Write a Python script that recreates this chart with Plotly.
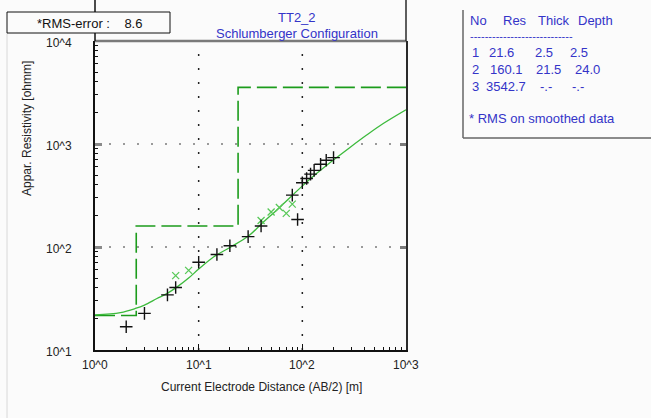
import math
import plotly.graph_objects as go

# ---- sounding data -------------------------------------------------------
# observed apparent resistivity (field data)
obs_ab2 = [2, 3, 5, 6, 10, 15, 20, 30, 40, 80, 90, 100, 110, 120, 130, 150, 170, 200]
obs_rho = [16.8, 22.7, 34.3, 40.4, 71, 84.7, 103, 126, 160, 319, 185, 420, 462, 510, 555, 635, 695, 738]

# smoothed data points
sm_ab2 = [6, 8, 40, 50, 60, 70, 80]
sm_rho = [52.7, 59.3, 181, 219, 242, 212, 261]

# model response curve
resp_ab2 = [1, 1.76, 2.45, 3.0, 3.96, 4.94, 6.2, 8, 10, 13.9, 20, 30, 40.5, 63, 95, 137, 198, 286, 414, 598, 1000]
resp_rho = [21.9, 23.1, 25.3, 27.3, 31.6, 35.3, 41, 50, 61, 80, 99, 127, 168, 252, 373, 516, 695, 921, 1214, 1571, 2150]

# layered model
layer_no = [1, 2, 3]
layer_res = [21.6, 160.1, 3542.7]
layer_thick = ["2.5", "21.5", "-.-"]
layer_depth = ["2.5", "24.0", "-.-"]
depths = [2.5, 24.0]

x_tick_vals = [1, 10, 100, 1000]
x_tick_text = ["10^0", "10^1", "10^2", "10^3"]
y_tick_vals = [10, 100, 1000, 10000]
y_tick_text = ["10^1", "10^2", "10^3", "10^4"]

rms_error = 8.6
site_name = "TT2_2"
config_name = "Schlumberger Configuration"

# ---- geometry helpers (pixel -> paper) ----------------------------------
W, H = 651, 418
L, R, T, B = 95, 406, 41, 350


def px(x):
    return (x - L) / (R - L)


def py(y):
    return (B - y) / (B - T)


FONT = "Liberation Sans, Arial, sans-serif"
BLUE = "#3434c8"
GREEN_DASH = "#1c9c1c"
GREEN_LINE = "#3cba3c"
GREEN_X = "#58c858"
BG = "#fbfbfb"

fig = go.Figure()

# dotted vertical grid at the inner decades
grid_x, grid_y = [], []
for v in x_tick_vals[1:-1]:
    grid_x += [v, v, None]
    grid_y += [y_tick_vals[0], y_tick_vals[-1], None]
fig.add_trace(go.Scatter(
    x=grid_x, y=grid_y, mode="lines",
    line=dict(color="#222222", width=1.5, dash="2px,12px"),
    hoverinfo="skip", showlegend=False))

# model steps: resistivity of each layer down to its bottom depth
step_x = [1] + depths + [1000]
step_y = layer_res + [layer_res[-1]]
fig.add_trace(go.Scatter(
    x=step_x, y=step_y, mode="lines", line_shape="hv",
    line=dict(color=GREEN_DASH, width=1.6, dash="20px,6px"),
    hoverinfo="skip", showlegend=False))

fig.add_trace(go.Scatter(
    x=resp_ab2, y=resp_rho, mode="lines", line_shape="spline",
    line=dict(color=GREEN_LINE, width=1.3), showlegend=False))

fig.add_trace(go.Scatter(
    x=sm_ab2, y=sm_rho, mode="markers",
    marker=dict(symbol="x-thin", size=7, line=dict(color=GREEN_X, width=1.3)),
    showlegend=False))

fig.add_trace(go.Scatter(
    x=obs_ab2, y=obs_rho, mode="markers",
    marker=dict(symbol="cross-thin", size=9, line=dict(color="#111111", width=1.4)),
    showlegend=False))

# right-hand axis carrying only decade ticks
fig.add_trace(go.Scatter(x=[1], y=[10], yaxis="y2", mode="markers",
                         marker=dict(opacity=0), hoverinfo="skip", showlegend=False))

fig.update_layout(
    width=W, height=H,
    margin=dict(l=L, r=W - R, t=T, b=H - B),
    paper_bgcolor=BG, plot_bgcolor=BG,
    font=dict(family=FONT, size=12, color="#222222"),
    xaxis=dict(
        type="log", range=[0, 3], showticklabels=False,
        tickmode="array", tickvals=x_tick_vals,
        ticks="inside", ticklen=6, tickwidth=1, tickcolor="#111111",
        showline=True, linecolor="#111111", linewidth=1.5, mirror=False,
        showgrid=False,
        minor=dict(ticks="inside", ticklen=3, tickwidth=1, tickcolor="#111111",
                   dtick="D1", showgrid=False),
        zeroline=False,
    ),
    yaxis=dict(
        type="log", range=[1, 4], showticklabels=False,
        tickmode="array", tickvals=y_tick_vals,
        ticks="inside", ticklen=7, tickwidth=2.5, tickcolor="#8a8a8a",
        showline=True, linecolor="#111111", linewidth=1.5, mirror=False,
        showgrid=True, gridcolor="#9a9a9a", gridwidth=2, griddash="2px,12px",
        minor=dict(ticks="inside", ticklen=3, tickwidth=1, tickcolor="#111111",
                   dtick="D1", showgrid=False),
        zeroline=False,
    ),
    yaxis2=dict(
        type="log", range=[1, 4], overlaying="y", side="right",
        showticklabels=False, tickmode="array", tickvals=y_tick_vals,
        ticks="inside", ticklen=6, tickwidth=2.5, tickcolor="#7a7a7a",
        showline=True, linecolor="#2a2a2a", linewidth=1.5,
        showgrid=False, zeroline=False,
    ),
)

shapes = [
    # top border of plotting area
    dict(type="line", xref="paper", yref="paper", x0=0, x1=1, y0=1, y1=1,
         line=dict(color="#7a7a7a", width=2.5)),
    # side lines running up through the title area
    dict(type="line", xref="paper", yref="paper", x0=0, x1=0, y0=1, y1=py(0),
         line=dict(color="#111111", width=1.5)),
    dict(type="line", xref="paper", yref="paper", x0=1, x1=1, y0=1, y1=py(0),
         line=dict(color="#2a2a2a", width=1.5)),
    # faint frame on the far left
    dict(type="line", xref="paper", yref="paper", x0=px(7), x1=px(7), y0=py(33), y1=py(418),
         line=dict(color="#d8d8d8", width=1)),
    # RMS box
    dict(type="rect", xref="paper", yref="paper", x0=px(7), x1=px(170), y0=py(33), y1=py(12),
         line=dict(color="#111111", width=1), fillcolor=BG),
    # model table frame
    dict(type="line", xref="paper", yref="paper", x0=px(463), x1=px(463), y0=py(10), y1=py(138),
         line=dict(color="#666666", width=1.5)),
    dict(type="line", xref="paper", yref="paper", x0=px(463), x1=px(652), y0=py(138), y1=py(138),
         line=dict(color="#666666", width=1.5)),
]
fig.update_layout(shapes=shapes)

ann = []


def text(x, y, s, size=12, color="#222222", xanchor="center", angle=0):
    ann.append(dict(xref="paper", yref="paper", x=px(x), y=py(y), text=s,
                    showarrow=False, xanchor=xanchor, yanchor="middle",
                    textangle=angle, font=dict(family=FONT, size=size, color=color)))


# tick labels
for v, s in zip(x_tick_vals, x_tick_text):
    ann.append(dict(xref="x", yref="paper", x=math.log10(v), y=py(365), text=s,
                    showarrow=False, xanchor="center", yanchor="middle",
                    font=dict(family=FONT, size=12, color="#222222")))
for v, s in zip(y_tick_vals, y_tick_text):
    ann.append(dict(xref="paper", yref="y", x=px(59), y=math.log10(v), text=s,
                    showarrow=False, xanchor="center", yanchor="middle", yshift=-2,
                    font=dict(family=FONT, size=12, color="#222222")))

# axis titles
text(261, 387, "Current Electrode Distance (AB/2) [m]")
text(27, 129, "Appar. Resistivity [ohmm]", angle=-90)

# title block
text(297, 17, site_name, size=13, color=BLUE)
text(297, 33, config_name, size=13, color=BLUE)
text(89, 23, f"*RMS-error :    {rms_error}", size=13, color="#111111")

# model table
text(468, 20, "No", size=13, color=BLUE, xanchor="left")
text(501, 20, "Res", size=13, color=BLUE, xanchor="left")
text(536, 20, "Thick", size=13, color=BLUE, xanchor="left")
text(576, 20, "Depth", size=13, color=BLUE, xanchor="left")
text(468, 36, "-" * 28, size=11, color=BLUE, xanchor="left")
row_y = [52, 69, 86]
res_x = [487, 488, 484]
thick_x = [533, 534, 538]
depth_x = [568, 573, 570]
for i, n in enumerate(layer_no):
    text(470, row_y[i], str(n), size=13, color=BLUE, xanchor="left")
    text(res_x[i], row_y[i], f"{layer_res[i]:.1f}", size=13, color=BLUE, xanchor="left")
    text(thick_x[i], row_y[i], layer_thick[i], size=13, color=BLUE, xanchor="left")
    text(depth_x[i], row_y[i], layer_depth[i], size=13, color=BLUE, xanchor="left")
text(467, 118, "* RMS on smoothed data", size=13, color=BLUE, xanchor="left")

fig.update_layout(annotations=ann)

fig.write_html("out.html")
